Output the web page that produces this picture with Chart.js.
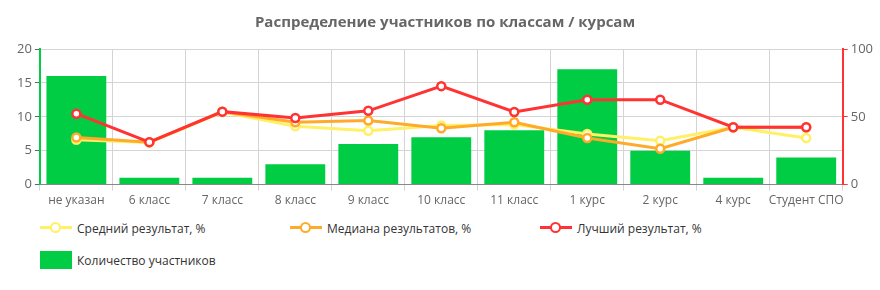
<!DOCTYPE html>
<html>
<head>
<meta charset="utf-8">
<script src="https://cdn.jsdelivr.net/npm/chart.js@4"></script>
<style>
  body { margin: 0; background: #fff; font-family: "Open Sans", sans-serif; }
  #wrap { position: relative; width: 880px; height: 290px; }
  #box { position: absolute; left: 0; top: 0; width: 880px; height: 211px; }
  #legend { position: absolute; left: 40px; top: 219px; width: 800px; }
  .item { position: absolute; display: flex; align-items: center; font-size: 12px; color: #333; white-space: nowrap; }
  .sym { position: relative; width: 32px; height: 18px; margin-right: 5px; }
  .sym .ln { position: absolute; left: 0; right: 0; top: 7px; height: 3px; }
  .sym .pt { position: absolute; left: 10px; top: 3px; width: 7px; height: 7px; border-radius: 50%; background: #fff; border: 2.5px solid; }
  .sym .bx { position: absolute; left: 0; right: 0; top: 0; bottom: 0; }
</style>
</head>
<body>
<div id="wrap">
  <div id="box"><canvas id="myChart"></canvas></div>
  <div id="legend"></div>
</div>
<script>
const labels = ['не указан', '6 класс', '7 класс', '8 класс', '9 класс', '10 класс', '11 класс', '1 курс', '2 курс', '4 курс', 'Студент СПО'];
const participants = [16, 1, 1, 3, 6, 7, 8, 17, 5, 1, 4];
const meanScore = [33, 31, 53.5, 43, 39.7, 43.5, 44.3, 37.3, 32.3, 42.3, 34.3];
const medianScore = [34.8, 31.3, 53.7, 46, 47.2, 41.6, 46, 34.3, 26.5, 42.3, 42.3];
const bestScore = [52.3, 31.3, 53.8, 49.1, 54.4, 72.6, 53.6, 62.6, 62.6, 42.3, 42.3];

const cYellow = '#fff066';
const cOrange = '#ffaa2a';
const cRed = '#ff3333';
const cGreen = '#00cc44';

function lineSet(label, data, color, order) {
  return {
    type: 'line', label: label, data: data, yAxisID: 'y1', order: order,
    borderColor: color, backgroundColor: '#fff', borderWidth: 3,
    pointRadius: 4, pointBorderWidth: 2.5, pointBorderColor: color, pointBackgroundColor: '#fff',
    tension: 0
  };
}

new Chart(document.getElementById('myChart'), {
  type: 'bar',
  data: {
    labels: labels,
    datasets: [
      lineSet('Средний результат, %', meanScore, cYellow, 2),
      lineSet('Медиана результатов, %', medianScore, cOrange, 1),
      lineSet('Лучший результат, %', bestScore, cRed, 0),
      { type: 'bar', label: 'Количество участников', data: participants, yAxisID: 'y', order: 3,
        backgroundColor: cGreen, barPercentage: 0.82, categoryPercentage: 1 }
    ]
  },
  options: {
    responsive: true,
    maintainAspectRatio: false,
    animation: false,
    layout: { padding: { left: 14, right: 4, top: 0, bottom: 0 } },
    plugins: {
      legend: { display: false },
      tooltip: { enabled: false },
      title: {
        display: true,
        text: 'Распределение участников по классам / курсам',
        color: '#666',
        font: { family: 'Open Sans', size: 15, weight: 'bold' },
        padding: { top: 14, bottom: 17 }
      }
    },
    scales: {
      x: {
        ticks: { color: '#666', font: { family: 'Open Sans', size: 12 }, maxRotation: 0, autoSkip: false },
        grid: { color: '#d4d4d4', offset: true, tickLength: 6 },
        border: { color: '#888', width: 1 }
      },
      y: {
        position: 'left', min: 0, max: 20,
        ticks: { stepSize: 5, color: '#666', font: { family: 'Open Sans', size: 13 } },
        grid: { color: '#d4d4d4', tickColor: '#666', tickLength: 5 },
        border: { color: cGreen, width: 2 }
      },
      y1: {
        position: 'right', min: 0, max: 100,
        ticks: { stepSize: 50, color: '#666', font: { family: 'Open Sans', size: 13 } },
        grid: { drawOnChartArea: false, tickColor: cRed, tickLength: 5 },
        border: { color: cRed, width: 2 }
      }
    }
  }
});

// legend below the chart, fixed column widths
const legendItems = [
  { text: 'Средний результат, %', color: cYellow, kind: 'line', x: 0, y: 0 },
  { text: 'Медиана результатов, %', color: cOrange, kind: 'line', x: 250, y: 0 },
  { text: 'Лучший результат, %', color: cRed, kind: 'line', x: 500, y: 0 },
  { text: 'Количество участников', color: cGreen, kind: 'box', x: 0, y: 32 }
];
const lg = document.getElementById('legend');
legendItems.forEach(it => {
  const d = document.createElement('div');
  d.className = 'item';
  d.style.left = it.x + 'px';
  d.style.top = it.y + 'px';
  let sym = '';
  if (it.kind === 'line') {
    sym = '<div class="sym"><div class="ln" style="background:' + it.color + '"></div><div class="pt" style="border-color:' + it.color + '"></div></div>';
  } else {
    sym = '<div class="sym"><div class="bx" style="background:' + it.color + '"></div></div>';
  }
  d.innerHTML = sym + '<span>' + it.text + '</span>';
  lg.appendChild(d);
});
</script>
</body>
</html>
